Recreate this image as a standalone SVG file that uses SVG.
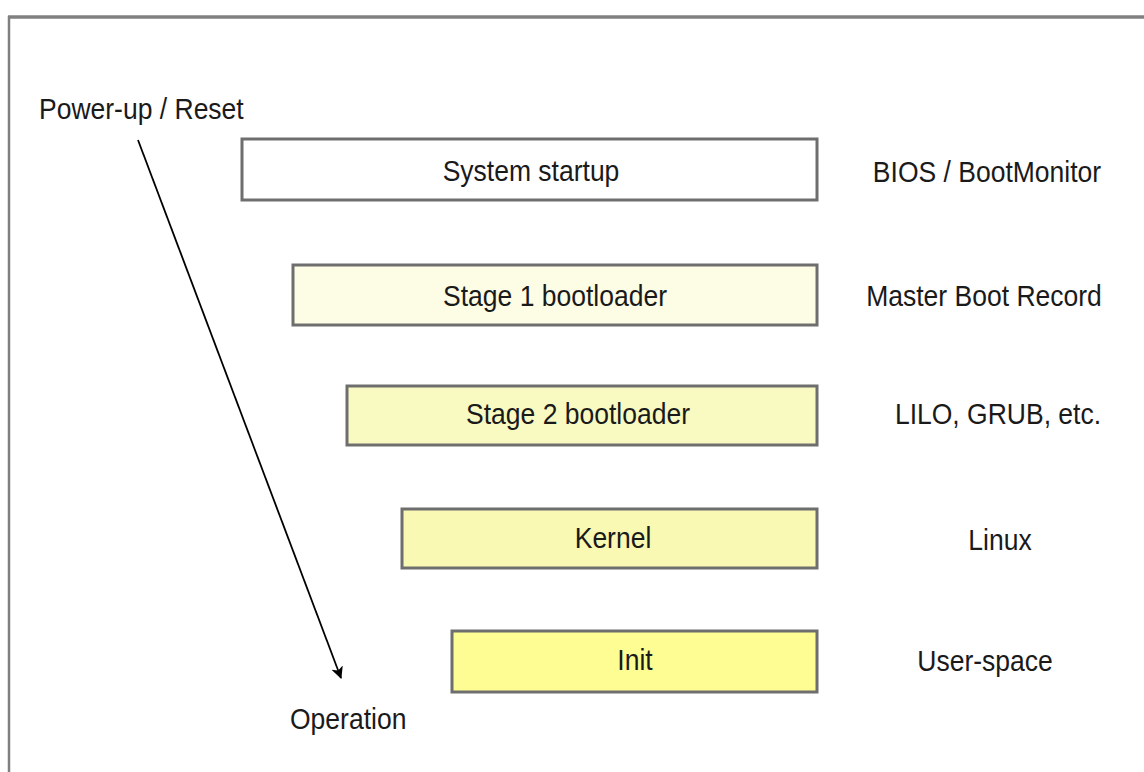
<svg xmlns="http://www.w3.org/2000/svg" width="1144" height="772" viewBox="0 0 1144 772">
<style>
.box{stroke:#6e6e6e;stroke-width:3}
.t{font-family:"Liberation Sans",Arial,sans-serif;font-size:26.5px;fill:#1a1a1a}
.c{text-anchor:middle}
</style>
<defs>
<marker id="ah" markerWidth="12" markerHeight="14" refX="11" refY="7" orient="auto" markerUnits="userSpaceOnUse">
<path d="M0,1 L12,7 L0,13 L3,7 Z" fill="#000"/>
</marker>
</defs>
<rect width="1144" height="772" fill="#fff"/>
<g id="frame">
<line x1="8" y1="17" x2="1144" y2="17" stroke="#808080" stroke-width="3.5"/>
<line x1="9" y1="16" x2="9" y2="772" stroke="#808080" stroke-width="2.5"/>
</g>
<g id="connectors">
<line x1="138" y1="140" x2="341" y2="678" stroke="#000" stroke-width="1.8" marker-end="url(#ah)"/>
</g>
<g id="power-up">
<text class="t" transform="translate(39,119) scale(1,1.08)">Power-up / Reset</text>
</g>
<g id="operation">
<text class="t" transform="translate(290,729) scale(1,1.08)">Operation</text>
</g>
<g id="system-startup">
<rect class="box" x="242" y="139" width="575" height="61" fill="#ffffff"/>
<text class="t c" transform="translate(531,181) scale(1,1.08)">System startup</text>
</g>
<g id="stage1">
<rect class="box" x="293" y="265" width="524" height="60" fill="#fdfde6"/>
<text class="t c" transform="translate(555,306) scale(1,1.08)">Stage 1 bootloader</text>
</g>
<g id="stage2">
<rect class="box" x="347" y="386" width="470" height="59" fill="#f9f9c2"/>
<text class="t c" transform="translate(578,424) scale(1,1.08)">Stage 2 bootloader</text>
</g>
<g id="kernel">
<rect class="box" x="402" y="509" width="415" height="59" fill="#f9f9b3"/>
<text class="t c" transform="translate(613,548) scale(1,1.08)">Kernel</text>
</g>
<g id="init">
<rect class="box" x="452" y="631" width="365" height="61" fill="#fdfd94"/>
<text class="t c" transform="translate(635,670) scale(1,1.08)">Init</text>
</g>
<g id="labels">
<text class="t c" transform="translate(987,182) scale(1,1.08)">BIOS / BootMonitor</text>
<text class="t c" transform="translate(984,306) scale(1,1.08)">Master Boot Record</text>
<text class="t c" transform="translate(998,424) scale(1,1.08)">LILO, GRUB, etc.</text>
<text class="t c" transform="translate(1000,550) scale(1,1.08)">Linux</text>
<text class="t c" transform="translate(985,671) scale(1,1.08)">User-space</text>
</g>
</svg>
